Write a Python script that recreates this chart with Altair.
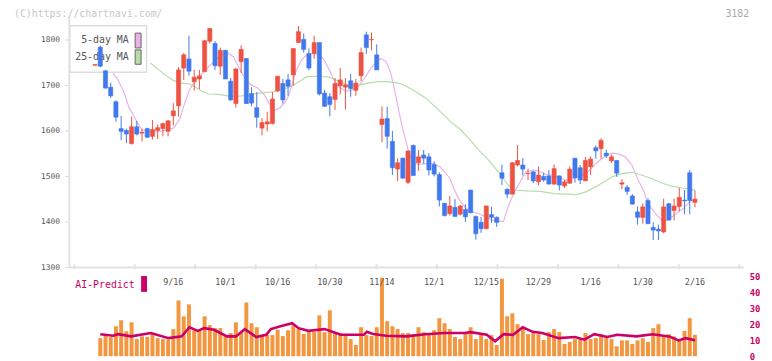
import altair as alt
import pandas as pd

# ---------------- data ----------------
opens = [1744,1784,1732,1696,1664,1605,1601,1572,1609,1595,1605,1588,1601,1605,1599,1633,1655,1738,1758,1708,
         1714,1730,1797,1792,1742,1777,1709,1660,1752,1759,1682,1651,1606,1615,1616,1688,1704,1712,1723,1794,
         1801,1770,1770,1794,1683,1675,1669,1699,1696,1710,1689,1721,1811,1800,1767,1614,1627,1577,1516,1540,
         1487,1568,1530,1547,1543,1526,1504,1441,1418,1432,1417,1427,1470,1412,1399,1385,1416,1410,1508,1472,
         1461,1525,1525,1506,1510,1488,1500,1501,1483,1501,1479,1485,1540,1519,1490,1521,1563,1561,1551,1534,
         1535,1483,1476,1457,1422,1410,1447,1388,1384,1378,1440,1425,1434,1448,1508,1443]
highs = [1746,1787,1734,1706,1667,1633,1605,1631,1622,1605,1607,1624,1614,1618,1624,1661,1740,1771,1809,1734,
         1734,1800,1826,1797,1783,1778,1716,1738,1788,1760,1696,1685,1628,1642,1685,1720,1714,1725,1781,1830,
         1814,1781,1809,1794,1690,1683,1716,1738,1716,1725,1714,1783,1818,1816,1790,1654,1653,1600,1540,1541,
         1556,1570,1558,1558,1551,1533,1509,1441,1457,1450,1437,1439,1470,1414,1411,1436,1433,1412,1526,1473,
         1531,1569,1540,1517,1512,1522,1508,1514,1526,1502,1492,1521,1540,1525,1543,1544,1568,1584,1559,1548,
         1536,1494,1481,1461,1434,1441,1452,1399,1394,1451,1441,1451,1475,1470,1514,1469]
lows = [1744,1740,1693,1672,1620,1580,1573,1570,1590,1577,1584,1581,1582,1588,1588,1612,1631,1712,1721,1688,
        1692,1729,1792,1734,1723,1714,1666,1651,1727,1659,1654,1607,1590,1599,1614,1685,1660,1677,1699,1793,
        1772,1733,1758,1678,1653,1632,1646,1680,1647,1675,1677,1709,1769,1777,1734,1575,1561,1503,1490,1496,
        1483,1502,1512,1528,1502,1500,1434,1412,1414,1411,1414,1400,1419,1361,1376,1384,1398,1389,1481,1452,
        1461,1522,1502,1492,1485,1481,1488,1483,1482,1469,1474,1484,1486,1483,1490,1503,1539,1539,1540,1530,
        1499,1472,1459,1438,1394,1396,1396,1360,1360,1375,1403,1403,1423,1417,1417,1432]
closes = [1746,1742,1694,1677,1630,1599,1593,1609,1593,1597,1586,1603,1607,1616,1622,1644,1734,1767,1731,1718,
          1721,1798,1825,1743,1777,1714,1668,1736,1779,1660,1661,1630,1618,1620,1670,1720,1668,1698,1781,1818,
          1779,1738,1794,1681,1654,1658,1704,1712,1701,1693,1705,1772,1783,1801,1734,1626,1588,1519,1530,1496,
          1556,1502,1543,1540,1514,1505,1448,1414,1435,1412,1435,1411,1420,1374,1385,1435,1410,1399,1496,1461,
          1530,1535,1516,1507,1490,1503,1492,1483,1517,1481,1488,1516,1497,1492,1535,1538,1556,1579,1545,1543,
          1507,1486,1467,1439,1410,1433,1396,1382,1380,1433,1404,1435,1454,1446,1447,1450]
volume = [None,11.4,13.5,12.1,18.9,22.7,15.8,21.4,10.8,12.5,12.1,14.6,11.4,10.8,10.4,17.1,35.2,25.2,32.7,16.2,
          16.0,25.2,19.6,17.7,17.7,12.9,14.6,21.4,15.2,33.9,20.8,18.3,13.5,13.5,13.3,16.7,12.7,16.4,19.6,17.1,
          14.0,15.2,15.2,25.8,15.2,29.0,15.2,14.6,14.0,10.8,7.1,18.3,13.3,12.7,18.3,49.6,22.1,18.9,17.1,14.6,
          14.6,13.9,18.3,15.2,14.6,16.4,24.0,20.8,17.1,12.1,10.8,14.6,18.3,10.8,14.6,10.8,13.3,7.1,48.9,25.2,
          27.1,20.2,17.7,13.9,14.6,13.9,10.2,15.2,17.1,15.2,7.7,9.0,10.8,10.8,14.6,10.8,11.4,13.9,12.9,10.8,
          6.2,10.0,10.0,7.7,10.0,11.3,9.0,17.7,20.2,12.1,13.9,12.5,10.8,16.0,24.0,13.5]

ma5_pos = [3.4,4.4,5.6,6.5,7.2,8.1,9.0,10.3,11.8,13.4,15.0,16.2,17.1,18.1,19.3,20.9,22.1,23.1,24.0,25.5,
           26.5,27.4,28.7,29.9,31.2,32.4,33.3,34.3,35.5,36.8,37.7,38.6,39.6,40.5,41.7,43.0,43.9,44.9,45.8,47.0,
           48.3,49.2,50.5,51.7,52.9,53.9,54.8,55.8,56.7,57.6,58.3,58.9,59.8,60.2,61.1,62.4,63.6,64.9,66.1,67.0,
           68.0,68.9,69.8,71.1,72.3,73.6,74.8,76.1,77.3,78.3,79.2,80.4,81.7,82.6,84.2,85.4,86.7,87.9,89.2,90.4,
           91.7,92.9,94.1,95.4,96.7,97.9,99.2,100.4,101.6,102.9,104.1,105.1,106.0,107.3,108.5,109.4,110.4,111.6,112.8,114.1,115.0]
ma5_val = [1727,1712,1683,1651,1638,1618,1603,1598,1598,1601,1606,1625,1658,1690,1712,1730,1745,1756,1766,1770,
           1763,1743,1716,1701,1694,1680,1662,1644,1651,1669,1698,1734,1756,1766,1770,1768,1756,1734,1712,1694,
           1687,1690,1698,1716,1738,1752,1759,1752,1727,1680,1640,1608,1568,1550,1528,1527,1528,1528,1521,1510,
           1496,1470,1449,1430,1422,1418,1411,1404,1401,1401,1434,1466,1492,1510,1514,1510,1503,1503,1496,1492,
           1496,1500,1506,1521,1535,1546,1551,1549,1543,1525,1492,1470,1441,1420,1405,1403,1409,1420,1430,1445,1450]

ma25_pos = [10.6,11.8,13.4,15.0,16.5,18.1,19.3,20.6,21.8,23.7,25.5,27.4,29.3,31.2,33.6,35.5,37.4,39.3,40.5,43.0,
            44.9,46.7,48.6,50.5,52.3,54.2,56.1,57.6,59.0,60.8,63.3,65.5,68.0,69.9,71.7,73.6,75.5,77.3,79.2,80.4,
            82.9,85.4,87.9,92.3,94.1,96.6,99.1,101.0,102.9,104.7,106.6,108.5,110.4,112.8,115.0]
ma25_val = [1749,1738,1723,1711,1705,1703,1696,1686,1681,1680,1677,1676,1678,1683,1685,1689,1697,1709,1719,1720,
            1718,1709,1699,1700,1705,1708,1708,1706,1702,1691,1673,1650,1622,1604,1583,1557,1535,1510,1481,1470,
            1468,1467,1462,1460,1466,1481,1499,1506,1509,1503,1496,1486,1479,1474,1470]

ai_pos = [1,3.5,4.4,6.9,10.7,14.1,16.6,18.1,19.7,20.9,22.8,25.3,27,28.7,30.9,32.8,33.7,35.9,37.8,39,
          40.9,44,45.9,47.1,51.5,52.1,53.3,55.8,59.6,63.3,67,70.8,72,75.1,76.7,78.3,80.1,82,83.9,85.7,
          88.9,92,93.8,95.7,98.2,100.1,103.8,106.9,110,111.9,113.2,115]
ai_val = [13.9,12.9,13.9,12.5,14.6,11.4,12.5,18.3,16.0,17.7,16.7,12.5,12.5,17.1,12.1,13.5,17.1,19.2,20.8,17.7,
          16.0,17.1,15.0,13.5,13.5,15.4,14.0,12.9,12.5,13.9,14.6,14.6,15.2,13.5,9.4,13.9,13.5,18.3,15.4,14.6,
          11.4,12.1,10.4,13.9,12.1,13.5,12.5,13.9,12.5,10.0,11.4,10.0]

date_labels = ["9/16", "10/1", "10/16", "10/30", "11/14", "12/1", "12/15", "12/29", "1/16", "1/30", "2/16"]
date_label_pos = [15, 25, 35, 45, 55, 65, 75, 85, 95, 105, 115]
price_ticks = [1300, 1400, 1500, 1600, 1700, 1800]
vol_ticks = [0, 10, 20, 30, 40, 50]

# ---------------- styling ----------------
RED = "#EE5242"
BLUE = "#4078EE"
PINK = "#E8B4E8"
GREEN = "#B8DCA8"
ORANGE = "#F29640"
CRIMSON = "#CC0066"
AXIS = "#E2E2E2"
MONO = "DejaVu Sans Mono"

W, H = 682, 343
X_DOM = [-3.981, 123.496]
P_DOM = [1105.0, 1850.65]
V_DOM = [0, 214.375]

xs = alt.Scale(domain=X_DOM, nice=False, zero=False)
ps = alt.Scale(domain=P_DOM, nice=False, zero=False)
vs = alt.Scale(domain=V_DOM, nice=False, zero=False)

n = len(opens)
cdf = pd.DataFrame({"i": list(range(n)), "o": opens, "h": highs, "l": lows, "c": closes})
cdf["dir"] = ["up" if c >= o else "down" for o, c in zip(opens, closes)]
vdf = pd.DataFrame({"i": list(range(n)), "v": volume}).dropna()
ma5 = pd.DataFrame({"i": ma5_pos, "v": ma5_val})
ma25 = pd.DataFrame({"i": ma25_pos, "v": ma25_val})
ai = pd.DataFrame({"i": ai_pos, "v": ai_val})
ldf = pd.DataFrame({"i": date_label_pos, "t": date_labels})
tick_pos = [X_DOM[0] + k * (X_DOM[1] - X_DOM[0]) / 11 for k in range(12)]
tdf = pd.DataFrame({"i": tick_pos})
one = pd.DataFrame({"a": [0]})

col = alt.Color("dir:N", scale=alt.Scale(domain=["up", "down"], range=[RED, BLUE]), legend=None)
strk = alt.Stroke("dir:N", scale=alt.Scale(domain=["up", "down"], range=[RED, BLUE]), legend=None)


def X(f):
    return alt.X(f, type="quantitative", scale=xs, axis=None)


# axis lines and ticks
x_axis_line = alt.Chart(one).mark_rule(color=AXIS, strokeWidth=2).encode(
    x=alt.value(0), x2=alt.value(W),
    y=alt.YDatum(1300, type="quantitative", scale=ps, axis=None))
y_axis_line = alt.Chart(one).mark_rule(color=AXIS, strokeWidth=2).encode(
    x=alt.value(0),
    y=alt.YDatum(1300, type="quantitative", scale=ps, axis=None),
    y2=alt.Y2Datum(P_DOM[1]))
x_ticks = alt.Chart(tdf).mark_rule(color=AXIS, strokeWidth=2).encode(
    x=X("i"),
    y=alt.YDatum(1307, type="quantitative", scale=ps, axis=None),
    y2=alt.Y2Datum(1296))

price_axis = alt.Chart(cdf).mark_rule(opacity=0).encode(
    x=X("i"),
    y=alt.Y("c:Q", scale=ps, axis=alt.Axis(values=price_ticks, format="d", domain=False, grid=False, tickSize=5,
                                           tickColor="#DDDDDD", tickWidth=1, labelFont=MONO, labelFontSize=8,
                                           labelColor="#555555", labelPadding=5, title=None)))

ma5_line = alt.Chart(ma5).mark_line(color=PINK, strokeWidth=1.2).encode(
    x=X("i"), y=alt.Y("v:Q", scale=ps, axis=None))
ma25_line = alt.Chart(ma25).mark_line(color=GREEN, strokeWidth=1.2).encode(
    x=X("i"), y=alt.Y("v:Q", scale=ps, axis=None))

# legend box
leg_box = alt.Chart(one).mark_rect(fill="white", stroke="#DDDDDD", strokeWidth=1.5).encode(
    x=alt.value(0.5), x2=alt.value(78), y=alt.value(9), y2=alt.value(56))
leg_t1 = alt.Chart(one).mark_text(text="5-day MA", align="right", baseline="middle", font=MONO,
                                  fontSize=10, color="#555555").encode(x=alt.value(60), y=alt.value(24))
leg_t2 = alt.Chart(one).mark_text(text="25-day MA", align="right", baseline="middle", font=MONO,
                                  fontSize=10, color="#555555").encode(x=alt.value(60), y=alt.value(41))
leg_s1 = alt.Chart(one).mark_rect(fill=PINK, stroke="#666666", strokeWidth=1).encode(
    x=alt.value(66.5), x2=alt.value(72.5), y=alt.value(16.5), y2=alt.value(31.5))
leg_s2 = alt.Chart(one).mark_rect(fill=GREEN, stroke="#666666", strokeWidth=1).encode(
    x=alt.value(66.5), x2=alt.value(72.5), y=alt.value(33.5), y2=alt.value(48))

# volume + AI predict
vol_bars = alt.Chart(vdf).mark_bar(width=4, color=ORANGE).encode(
    x=X("i"),
    y=alt.Y("v:Q", scale=vs, axis=alt.Axis(orient="right", values=vol_ticks, format="d", domain=False, grid=False,
                                           ticks=False, labelFont=MONO, labelFontSize=9, labelFontWeight="bold",
                                           labelColor=CRIMSON, labelPadding=5, title=None)))
ai_line = alt.Chart(ai).mark_line(color=CRIMSON, strokeWidth=2.6).encode(
    x=X("i"), y=alt.Y("v:Q", scale=vs, axis=None))
ai_text = alt.Chart(one).mark_text(text="AI-Predict", align="left", baseline="middle", font=MONO,
                                   fontSize=10, color=CRIMSON).encode(x=alt.value(6), y=alt.value(271))
ai_box = alt.Chart(one).mark_rect(fill=CRIMSON).encode(
    x=alt.value(72.5), x2=alt.value(78.5), y=alt.value(262), y2=alt.value(278))

# candles
wicks = alt.Chart(cdf).mark_rule(strokeWidth=1).encode(
    x=X("i"), y=alt.Y("l:Q", scale=ps, axis=None), y2="h:Q", color=col)
bodies = alt.Chart(cdf).mark_bar(width=4.2, strokeWidth=0.6).encode(
    x=X("i"), y=alt.Y("o:Q", scale=ps, axis=None), y2="c:Q", color=col, stroke=strk)

# labels
date_text = alt.Chart(ldf).mark_text(font=MONO, fontSize=8.5, color="#555555", baseline="middle").encode(
    x=X("i"), y=alt.value(268), text="t:N")
copy_text = alt.Chart(one).mark_text(text="(C)https://chartnavi.com/", align="left", baseline="middle",
                                     font=MONO, fontSize=10, color="#C8C8C8").encode(x=alt.value(-56), y=alt.value(-2.5))
code_text = alt.Chart(one).mark_text(text="3182", align="right", baseline="middle",
                                     font=MONO, fontSize=10, color="#AAAAAA").encode(x=alt.value(687), y=alt.value(-2.5))

chart = alt.layer(
    x_axis_line, y_axis_line, x_ticks, price_axis,
    ma5_line, ma25_line,
    leg_box, leg_t1, leg_t2, leg_s1, leg_s2,
    vol_bars, ai_line, ai_text, ai_box,
    wicks, bodies,
    date_text, copy_text, code_text,
).resolve_scale(y="independent", color="independent", stroke="independent").properties(
    width=W, height=H,
    autosize=alt.AutoSizeParams(type="none"),
    padding={"left": 62, "top": 7, "right": 20, "bottom": 3},
    background="white",
).configure_view(strokeWidth=0)

chart.save("out.html", embed_options={"renderer": "svg", "actions": False})
